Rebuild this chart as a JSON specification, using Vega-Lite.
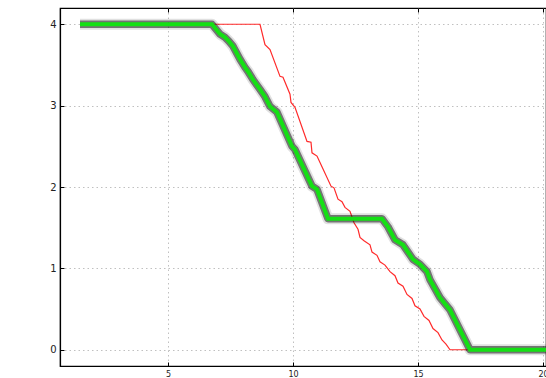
{
  "$schema": "https://vega.github.io/schema/vega-lite/v6.json",
  "autosize": "none",
  "width": 486,
  "height": 358,
  "padding": {"left": 60, "top": 8, "right": 0, "bottom": 12},
  "background": "white",
  "config": {
    "view": {"stroke": "black", "strokeWidth": 1.2},
    "axis": {
      "domainColor": "black",
      "domainWidth": 1.2,
      "tickColor": "black",
      "tickSize": -4,
      "gridColor": "#b0b0b0",
      "gridDash": [1.5, 3],
      "gridWidth": 0.8,
      "labelFont": "DejaVu Sans",
      "labelColor": "#222",
      "title": null
    }
  },
  "data": {
    "values": [
      {"series": "green", "x": 1.48, "y": 4.0},
      {"series": "green", "x": 6.76, "y": 4.0},
      {"series": "green", "x": 7.08, "y": 3.88},
      {"series": "green", "x": 7.28, "y": 3.84},
      {"series": "green", "x": 7.44, "y": 3.79},
      {"series": "green", "x": 7.6, "y": 3.73},
      {"series": "green", "x": 7.88, "y": 3.57},
      {"series": "green", "x": 8.08, "y": 3.47},
      {"series": "green", "x": 8.2, "y": 3.42},
      {"series": "green", "x": 8.4, "y": 3.32},
      {"series": "green", "x": 8.68, "y": 3.2},
      {"series": "green", "x": 8.88, "y": 3.11},
      {"series": "green", "x": 9.08, "y": 2.99},
      {"series": "green", "x": 9.36, "y": 2.92},
      {"series": "green", "x": 9.96, "y": 2.5},
      {"series": "green", "x": 10.08, "y": 2.46},
      {"series": "green", "x": 10.76, "y": 2.01},
      {"series": "green", "x": 10.96, "y": 1.97},
      {"series": "green", "x": 11.4, "y": 1.61},
      {"series": "green", "x": 13.56, "y": 1.61},
      {"series": "green", "x": 13.8, "y": 1.51},
      {"series": "green", "x": 14.08, "y": 1.35},
      {"series": "green", "x": 14.4, "y": 1.29},
      {"series": "green", "x": 14.8, "y": 1.11},
      {"series": "green", "x": 15.08, "y": 1.05},
      {"series": "green", "x": 15.36, "y": 0.96},
      {"series": "green", "x": 15.48, "y": 0.86},
      {"series": "green", "x": 15.88, "y": 0.64},
      {"series": "green", "x": 16.28, "y": 0.49},
      {"series": "green", "x": 17.08, "y": 0.0},
      {"series": "green", "x": 20.5, "y": 0.0},
      {"series": "red", "x": 1.48, "y": 4.0},
      {"series": "red", "x": 8.68, "y": 4.0},
      {"series": "red", "x": 8.88, "y": 3.75},
      {"series": "red", "x": 9.08, "y": 3.69},
      {"series": "red", "x": 9.48, "y": 3.36},
      {"series": "red", "x": 9.6, "y": 3.35},
      {"series": "red", "x": 9.88, "y": 3.14},
      {"series": "red", "x": 9.92, "y": 3.04},
      {"series": "red", "x": 10.08, "y": 2.98},
      {"series": "red", "x": 10.56, "y": 2.56},
      {"series": "red", "x": 10.72, "y": 2.55},
      {"series": "red", "x": 10.76, "y": 2.42},
      {"series": "red", "x": 10.96, "y": 2.38},
      {"series": "red", "x": 11.08, "y": 2.3},
      {"series": "red", "x": 11.52, "y": 2.01},
      {"series": "red", "x": 11.64, "y": 1.99},
      {"series": "red", "x": 11.8, "y": 1.85},
      {"series": "red", "x": 11.96, "y": 1.82},
      {"series": "red", "x": 12.08, "y": 1.75},
      {"series": "red", "x": 12.28, "y": 1.7},
      {"series": "red", "x": 12.44, "y": 1.56},
      {"series": "red", "x": 12.6, "y": 1.48},
      {"series": "red", "x": 12.68, "y": 1.38},
      {"series": "red", "x": 12.84, "y": 1.34},
      {"series": "red", "x": 13.08, "y": 1.29},
      {"series": "red", "x": 13.16, "y": 1.2},
      {"series": "red", "x": 13.36, "y": 1.16},
      {"series": "red", "x": 13.48, "y": 1.08},
      {"series": "red", "x": 13.68, "y": 1.04},
      {"series": "red", "x": 13.88, "y": 0.96},
      {"series": "red", "x": 14.08, "y": 0.91},
      {"series": "red", "x": 14.2, "y": 0.82},
      {"series": "red", "x": 14.4, "y": 0.78},
      {"series": "red", "x": 14.56, "y": 0.68},
      {"series": "red", "x": 14.76, "y": 0.63},
      {"series": "red", "x": 14.88, "y": 0.54},
      {"series": "red", "x": 15.08, "y": 0.5},
      {"series": "red", "x": 15.24, "y": 0.41},
      {"series": "red", "x": 15.44, "y": 0.36},
      {"series": "red", "x": 15.6, "y": 0.26},
      {"series": "red", "x": 15.8, "y": 0.21},
      {"series": "red", "x": 15.96, "y": 0.12},
      {"series": "red", "x": 16.12, "y": 0.07},
      {"series": "red", "x": 16.28, "y": 0.0},
      {"series": "red", "x": 20.5, "y": 0.0}
    ]
  },
  "encoding": {
    "y": {
      "field": "y",
      "type": "quantitative",
      "scale": {"domain": [-0.2, 4.2], "nice": false, "zero": false},
      "axis": {"values": [0, 1, 2, 3, 4], "labelFontSize": 10, "labelPadding": 8, "format": "d"}
    },
    "order": {"field": "x", "type": "quantitative"}
  },
  "resolve": {"axis": {"x": "independent"}},
  "layer": [
    {
      "transform": [{"filter": "datum.series === 'red'"}],
      "mark": {"type": "line", "color": "#ff2a2a", "strokeWidth": 1.2, "clip": true},
      "encoding": {
        "x": {
          "field": "x",
          "type": "quantitative",
          "scale": {"domain": [0.68, 20.12], "nice": false, "zero": false},
          "axis": {"values": [5, 10, 15, 20], "labelFontSize": 8, "labelPadding": 8, "format": "d"}
        }
      }
    },
    {
      "transform": [{"filter": "datum.series === 'green'"}],
      "mark": {"type": "line", "color": "black", "strokeWidth": 11, "opacity": 0.12, "clip": true, "strokeJoin": "round"},
      "encoding": {
        "x": {
          "field": "x",
          "type": "quantitative",
          "scale": {"domain": [0.68, 20.12], "nice": false, "zero": false},
          "axis": {"orient": "top", "values": [5, 10, 15, 20], "labels": false, "grid": false, "domain": false}
        }
      }
    },
    {
      "transform": [{"filter": "datum.series === 'green'"}],
      "mark": {"type": "line", "color": "#1a1a1a", "strokeWidth": 7.5, "opacity": 0.55, "clip": true, "strokeJoin": "round"},
      "encoding": {"x": {"field": "x", "type": "quantitative", "axis": null}}
    },
    {
      "transform": [{"filter": "datum.series === 'green'"}],
      "mark": {"type": "line", "color": "#14e014", "strokeWidth": 4, "clip": true},
      "encoding": {"x": {"field": "x", "type": "quantitative", "axis": null}}
    }
  ]
}
